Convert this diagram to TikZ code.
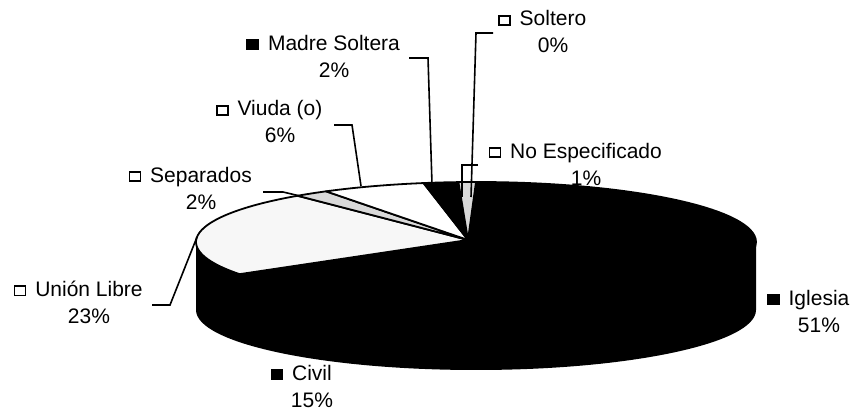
\documentclass[tikz,border=0pt]{standalone}
\usepackage{fontspec}
\setmainfont{Liberation Sans}
\usetikzlibrary{calc}

\newcommand{\blksq}{\tikz[baseline]\draw[line width=1.6pt,fill=black] (0,0.8pt) rectangle (11pt,10pt);}
\newcommand{\whtsq}{\tikz[baseline]\draw[line width=1.6pt,fill=white] (0,0.8pt) rectangle (11pt,10pt);}

\tikzset{
  slice/.style={draw=black,line width=1.8pt,line join=round},
  leader/.style={line width=1.6pt},
  tag/.style={align=center,font=\fontsize{21}{27}\selectfont,inner sep=0pt}
}

\begin{document}
\begin{tikzpicture}[x=1pt,y=1pt]
    \useasboundingbox (0,0) rectangle (853,411);
    \coordinate (O) at (476,169);
    \coordinate (A) at (468,171);
    % side of the pie
    \fill[black] ($(O)+(180:280 and 60)$) arc[start angle=180,end angle=360,x radius=280,y radius=60]
      -- ++(0,-68) arc[start angle=360,end angle=180,x radius=280,y radius=60] -- cycle;
    % top slices
    \foreach \a/\b/\c in {90/-93.6/black,-93.6/-147.6/black,-147.6/-230.4/gray!6,
      129.6/122.4/gray!30,122.4/100.8/white,100.8/93.6/black,93.6/90/gray!30}
    {
      \filldraw[slice,fill=\c] (A) -- ($(O)+(\a:280 and 60)$)
        arc[start angle=\a,end angle=\b,x radius=280,y radius=60] -- cycle;
    }
    % labels
    \node[tag] (msol) at (334,355) {\leavevmode\llap{\blksq\hspace{9pt}}Madre Soltera\\2\%};
    \node[tag] (solt) at (553,379) {\leavevmode\llap{\whtsq\hspace{9pt}}Soltero\\0\%};
    \node[tag] (viud) at (280,289) {\leavevmode\llap{\whtsq\hspace{9pt}}Viuda (o)\\6\%};
    \node[tag] (noes) at (586,247) {\leavevmode\llap{\whtsq\hspace{9pt}}No Especificado\\1\%};
    \node[tag] (sepa) at (201,223) {\leavevmode\llap{\whtsq\hspace{9pt}}Separados\\2\%};
    \node[tag] (unio) at (89,109) {\leavevmode\llap{\whtsq\hspace{9pt}}Unión Libre\\23\%};
    \node[tag] (civi) at (312,25) {\leavevmode\llap{\blksq\hspace{9pt}}Civil\\15\%};
    \node[tag] (igle) at (819,100) {\leavevmode\llap{\blksq\hspace{9pt}}Iglesia\\51\%};
    % leader lines
    \coordinate (ms1) at (409,353); \coordinate (ms2) at (428,353); \coordinate (ms3) at (432,227);
    \coordinate (so1) at (493,378); \coordinate (so2) at (476,378); \coordinate (so3) at (471,214);
    \coordinate (ne1) at (478,246); \coordinate (ne2) at (462,246); \coordinate (ne3) at (462,214);
    \coordinate (vi1) at (334,286); \coordinate (vi2) at (352,286); \coordinate (vi3) at (361,225);
    \coordinate (se1) at (263,219); \coordinate (se2) at (283,219); \coordinate (se3) at (300,215);
    \coordinate (ul1) at (152,106); \coordinate (ul2) at (170,106); \coordinate (ul3) at (197,174);
    \draw[leader] (ms1) -- (ms2) -- (ms3);
    \draw[leader] (so1) -- (so2) -- (so3);
    \draw[leader] (ne1) -- (ne2) -- (ne3);
    \draw[leader] (vi1) -- (vi2) -- (vi3);
    \draw[leader] (se1) -- (se2) -- (se3);
    \draw[leader] (ul1) -- (ul2) -- (ul3);
  \end{tikzpicture}
\end{document}
